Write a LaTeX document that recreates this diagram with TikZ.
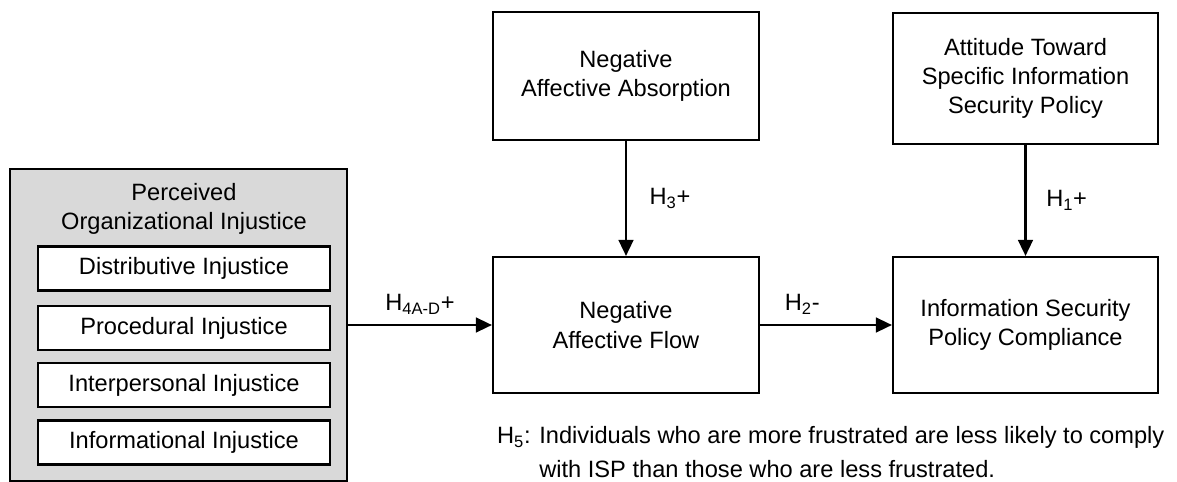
\documentclass[tikz,border=0pt]{standalone}
\usepackage{fontspec}
\setmainfont{Liberation Sans}
\usepackage{tikz}
\usetikzlibrary{arrows.meta, positioning}
\definecolor{boxgray}{RGB}{217,217,217}
\tikzset{
  cbox/.style={draw=black, line width=1.5pt, fill=white, align=center, inner sep=2pt,
    font=\fontsize{16.8}{20.8}\selectfont},
  gframe/.style={draw=black, line width=1.5pt, fill=boxgray, minimum width=8.425cm,
    minimum height=7.8cm},
  ibox/.style={draw=black, line width=1.5pt, fill=white, minimum width=7.3cm,
    minimum height=1.1cm, inner sep=1pt, font=\fontsize{16.8}{20.8}\selectfont},
  link/.style={-{Triangle[length=0.4cm, width=0.37cm]}, line width=1.5pt},
  hlab/.style={font=\fontsize{16.8}{20.8}\selectfont, inner sep=2pt},
}

\begin{document}
\begin{tikzpicture}[x=0.025cm, y=-0.025cm]
  \useasboundingbox (0,0) rectangle (1177,481);
  % perceived injustice block
  \node[gframe] (piu) at (178.5,325) {};
  \node[hlab, align=center] (piut) at (184,209) {Perceived\\Organizational Injustice};
  \node[ibox] (dist) at (184,268.5) {Distributive Injustice};
  \node[ibox] (proc) at (184,328) {Procedural Injustice};
  \node[ibox] (inter) at (184,385) {Interpersonal Injustice};
  \node[ibox] (info) at (184,442.5) {Informational Injustice};
  % constructs
  \node[cbox, minimum width=6.65cm, minimum height=3.2cm] (absorb) at (626,76) {Negative\\Affective Absorption};
  \node[cbox, minimum width=6.65cm, minimum height=3.4cm] (flow) at (626,325) {Negative\\Affective Flow};
  \node[cbox, minimum width=6.625cm, minimum height=3.275cm] (attit) at (1025.5,78.5) {Attitude Toward\\Specific Information\\Security Policy};
  \node[cbox, minimum width=6.625cm, minimum height=3.4cm] (comply) at (1025.5,325) {Information Security\\Policy Compliance};
  % hypotheses
  \draw[link] (piu.east) -- node[hlab, above=5pt] {H\textsubscript{4A-D}+} (flow.west);
  \draw[link] (flow.east) -- node[hlab, above=5pt, pos=0.32] {H\textsubscript{2}-} (comply.west);
  \draw[link] (absorb.south) -- node[hlab, right=14pt] {H\textsubscript{3}+} (flow.north);
  \draw[link] (attit.south) -- node[hlab, right=12pt] {H\textsubscript{1}+} (comply.north);
  \node[hlab, anchor=west, align=left] (h5) at (494,455) {%
    \begin{tabular}{@{}l@{ }l@{}}
      H\textsubscript{5}: & Individuals who are more frustrated are less likely to comply\\[3.5pt]
       & with ISP than those who are less frustrated.
    \end{tabular}};
\end{tikzpicture}
\end{document}
